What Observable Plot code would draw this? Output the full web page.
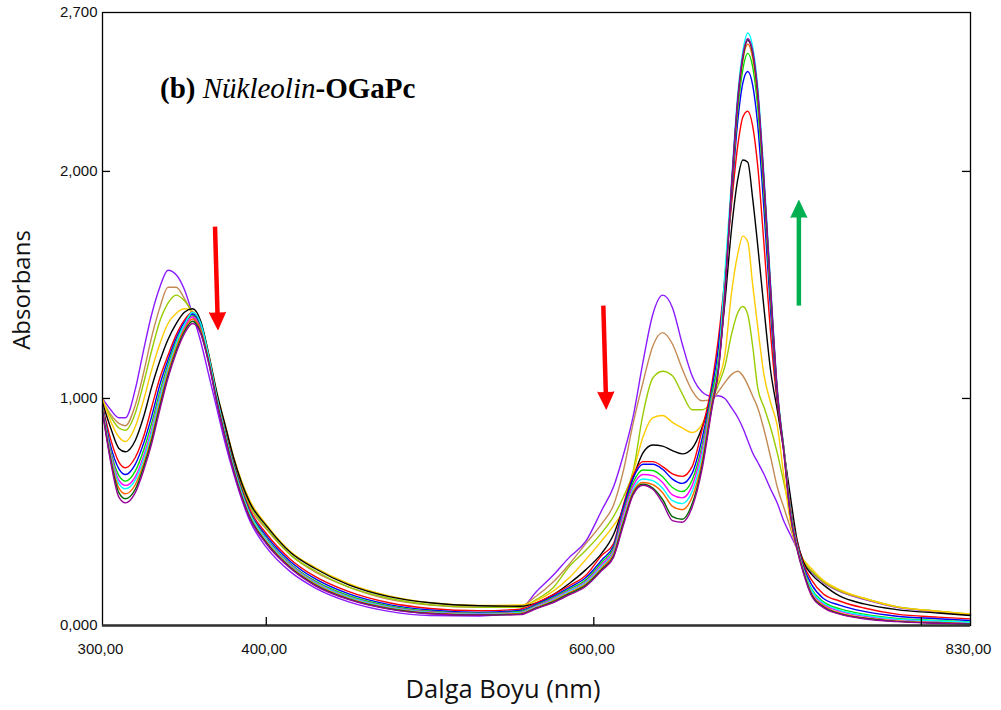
<!DOCTYPE html>
<html><head><meta charset="utf-8">
<script src="https://cdn.jsdelivr.net/npm/d3@7"></script>
<script src="https://cdn.jsdelivr.net/npm/@observablehq/plot@0.6"></script>
<style>body{margin:0;background:#fff} #chart{width:1001px;height:710px}</style>
</head><body><div id="chart"></div>
<script>
// Wavelength grid (nm)
const wavelengths = [300,305,310,314,320,325,330,335,340,345,350,355,360,365,370,375,380,390,400,415,430,450,475,500,530,
  555,565,575,585,595,605,612,618,624,630,636,642,648,654,660,666,672,676,680,684,688,691,694,697,700,704,708,712,716,720,724,728,733,740,750,765,785,810,830];

// Absorbance spectra
const violet = [1.00,0.95,0.915,0.915,1.04,1.21,1.37,1.49,1.565,1.545,1.48,1.37,1.25,1.10,0.95,0.80,0.67,0.46,0.345,0.235,0.165,0.105,0.062,0.044,0.042,
  0.07,0.15,0.22,0.30,0.37,0.51,0.61,0.75,0.92,1.16,1.37,1.455,1.40,1.24,1.10,1.03,1.01,1.012,1.00,0.96,0.915,0.87,0.815,0.76,0.72,0.665,0.60,0.54,0.46,0.40,0.34,0.28,0.235,0.19,0.15,0.115,0.08,0.06,0.046];
const tan = [0.99,0.93,0.89,0.88,0.97,1.11,1.27,1.40,1.49,1.49,1.44,1.37,1.29,1.16,0.99,0.84,0.715,0.52,0.425,0.31,0.235,0.17,0.115,0.09,0.08,
  0.085,0.13,0.19,0.27,0.36,0.45,0.53,0.68,0.89,1.07,1.23,1.29,1.24,1.13,1.035,0.99,0.995,1.03,1.07,1.105,1.12,1.10,1.06,1.01,0.96,0.86,0.74,0.61,0.52,0.43,0.34,0.28,0.24,0.192,0.152,0.117,0.082,0.062,0.048];
const yellowGreen = [0.99,0.92,0.87,0.86,0.935,1.065,1.21,1.34,1.42,1.455,1.43,1.38,1.31,1.17,1.00,0.86,0.725,0.53,0.43,0.31,0.24,0.17,0.12,0.092,0.08,
  0.08,0.115,0.165,0.26,0.33,0.41,0.48,0.565,0.68,0.93,1.09,1.12,1.10,1.02,0.95,0.95,0.99,1.06,1.14,1.28,1.38,1.405,1.37,1.23,1.05,0.96,0.87,0.76,0.63,0.50,0.36,0.285,0.24,0.195,0.155,0.12,0.083,0.063,0.05];
const gold = [1.00,0.90,0.83,0.81,0.875,0.99,1.125,1.24,1.33,1.375,1.395,1.385,1.33,1.19,1.02,0.88,0.745,0.55,0.445,0.325,0.255,0.185,0.13,0.10,0.088,
  0.09,0.11,0.15,0.21,0.29,0.375,0.44,0.51,0.67,0.83,0.915,0.925,0.895,0.87,0.85,0.885,1.00,1.08,1.19,1.46,1.64,1.715,1.69,1.50,1.32,1.10,0.98,0.88,0.66,0.46,0.34,0.29,0.25,0.20,0.158,0.12,0.082,0.063,0.051];
const black = [0.98,0.87,0.78,0.765,0.815,0.917,1.05,1.165,1.26,1.33,1.38,1.395,1.34,1.19,1.02,0.88,0.74,0.54,0.44,0.32,0.25,0.18,0.127,0.10,0.087,
  0.085,0.10,0.135,0.185,0.245,0.32,0.40,0.52,0.65,0.76,0.795,0.79,0.77,0.756,0.78,0.87,1.01,1.15,1.42,1.74,1.97,2.05,2.04,1.88,1.68,1.39,1.12,0.95,0.77,0.57,0.38,0.28,0.225,0.18,0.13,0.095,0.07,0.055,0.044];
const red = [0.97,0.82,0.72,0.695,0.74,0.83,0.96,1.09,1.19,1.28,1.345,1.38,1.32,1.18,1.00,0.85,0.715,0.51,0.405,0.29,0.215,0.15,0.10,0.075,0.065,
  0.072,0.10,0.135,0.175,0.22,0.31,0.36,0.53,0.66,0.722,0.722,0.70,0.668,0.657,0.70,0.86,1.06,1.26,1.53,1.85,2.12,2.24,2.265,2.20,2.03,1.67,1.28,0.98,0.78,0.52,0.37,0.27,0.20,0.14,0.108,0.077,0.05,0.037,0.029];
const blue = [0.965,0.79,0.69,0.665,0.71,0.80,0.92,1.06,1.17,1.265,1.335,1.372,1.315,1.175,0.995,0.845,0.71,0.50,0.395,0.28,0.205,0.14,0.092,0.068,0.058,
  0.066,0.094,0.128,0.167,0.21,0.29,0.35,0.52,0.65,0.71,0.71,0.688,0.645,0.626,0.67,0.82,1.04,1.22,1.52,1.88,2.23,2.39,2.44,2.38,2.21,1.82,1.38,1.00,0.78,0.51,0.36,0.26,0.18,0.12,0.09,0.062,0.041,0.03,0.022];
const green = [0.96,0.77,0.66,0.636,0.68,0.77,0.89,1.03,1.15,1.25,1.325,1.365,1.31,1.17,0.99,0.84,0.705,0.495,0.385,0.27,0.195,0.132,0.086,0.063,0.054,
  0.062,0.09,0.122,0.16,0.20,0.28,0.34,0.50,0.63,0.685,0.683,0.655,0.608,0.59,0.64,0.79,1.02,1.17,1.50,1.90,2.28,2.45,2.52,2.46,2.29,1.89,1.43,1.02,0.78,0.51,0.355,0.25,0.16,0.105,0.074,0.05,0.031,0.022,0.016];
const magenta = [0.955,0.76,0.64,0.617,0.655,0.745,0.865,1.01,1.135,1.24,1.315,1.36,1.305,1.165,0.99,0.835,0.70,0.49,0.38,0.265,0.19,0.127,0.082,0.06,0.052,
  0.058,0.086,0.117,0.154,0.193,0.27,0.33,0.49,0.615,0.665,0.66,0.63,0.575,0.562,0.615,0.77,1.00,1.14,1.50,1.92,2.32,2.50,2.575,2.52,2.35,1.94,1.47,1.03,0.78,0.50,0.35,0.245,0.15,0.095,0.064,0.042,0.026,0.018,0.012];
const cyan = [0.955,0.75,0.625,0.602,0.64,0.73,0.85,1.00,1.13,1.24,1.325,1.38,1.33,1.18,1.00,0.84,0.70,0.49,0.378,0.262,0.187,0.125,0.08,0.058,0.05,
  0.056,0.083,0.113,0.15,0.188,0.262,0.322,0.47,0.60,0.645,0.638,0.605,0.55,0.537,0.59,0.745,0.99,1.15,1.55,1.95,2.35,2.53,2.61,2.55,2.38,1.97,1.50,1.05,0.78,0.50,0.35,0.245,0.155,0.10,0.068,0.045,0.028,0.02,0.014];
const orange = [0.95,0.74,0.605,0.58,0.62,0.71,0.83,0.98,1.115,1.225,1.305,1.35,1.30,1.16,0.985,0.83,0.69,0.48,0.37,0.257,0.182,0.12,0.076,0.055,0.048,
  0.053,0.08,0.108,0.145,0.182,0.255,0.315,0.46,0.59,0.63,0.62,0.585,0.525,0.51,0.565,0.72,0.98,1.13,1.48,1.91,2.31,2.49,2.56,2.50,2.33,1.93,1.46,1.03,0.77,0.49,0.345,0.24,0.14,0.088,0.055,0.034,0.02,0.013,0.008];
const darkGreen = [0.945,0.73,0.585,0.558,0.60,0.695,0.815,0.965,1.10,1.21,1.295,1.34,1.29,1.155,0.98,0.825,0.685,0.475,0.365,0.253,0.178,0.117,0.074,0.053,0.046,
  0.05,0.077,0.104,0.14,0.177,0.248,0.305,0.45,0.58,0.622,0.605,0.555,0.48,0.468,0.535,0.70,0.96,1.12,1.46,1.92,2.32,2.50,2.58,2.52,2.35,1.94,1.47,1.03,0.77,0.49,0.34,0.235,0.135,0.083,0.052,0.032,0.018,0.011,0.007];
const purple = [0.94,0.72,0.565,0.54,0.585,0.68,0.80,0.95,1.09,1.20,1.285,1.33,1.285,1.15,0.975,0.82,0.68,0.47,0.36,0.25,0.175,0.115,0.072,0.052,0.045,
  0.048,0.075,0.10,0.135,0.172,0.243,0.30,0.44,0.575,0.618,0.60,0.54,0.462,0.455,0.52,0.685,0.95,1.12,1.45,1.93,2.33,2.51,2.585,2.53,2.36,1.95,1.48,1.04,0.76,0.49,0.34,0.23,0.13,0.08,0.05,0.03,0.017,0.01,0.006];

const seriesNames = ["violet","tan","yellowGreen","gold","black","red","blue","green","magenta","cyan","orange","darkGreen","purple"];
const seriesColors = ["#8B1AFF","#C48A55","#99CC00","#FFCC00","#000000","#FF0000","#0000FF","#00E000","#FF00FF","#00FFFF","#FF6600","#006400","#990099"];
const seriesValues = [violet,tan,yellowGreen,gold,black,red,blue,green,magenta,cyan,orange,darkGreen,purple];

// Axis ticks / labels
const xDomain = [300, 830];
const yDomain = [0, 2.7];
const xTickLabels = [300, 400, 600, 830];
const xTickMarks = [400, 600, 800];
const yTickLabels = [0, 1, 2, 2.7];
const yTickMarks = [1, 2];

// Annotation arrows (data coordinates: start -> tip)
const arrows = [
  {x1: 368.7, y1: 1.757, x2: 370.5, y2: 1.304, color: "#FF0000"},
  {x1: 605.8, y1: 1.409, x2: 607.6, y2: 0.954, color: "#FF0000"},
  {x1: 725.2, y1: 1.409, x2: 725.2, y2: 1.872, color: "#00B050"}
];

const W = 1001, H = 710, ML = 102, MR = 31, MT = 12, MB = 85;
const pxPerX = (W - ML - MR) / (xDomain[1] - xDomain[0]);
const pxPerY = (H - MT - MB) / (yDomain[1] - yDomain[0]);

const rows = [];
seriesValues.forEach((vals, k) => vals.forEach((a, i) => rows.push({series: seriesNames[k], wl: wavelengths[i], a})));

const headLen = 17;
const arrowRows = arrows.map(d => {
  const dx = (d.x2 - d.x1) * pxPerX, dy = -(d.y2 - d.y1) * pxPerY;
  const len = Math.hypot(dx, dy);
  const ux = dx / len, uy = dy / len;
  return {...d, rotate: Math.atan2(dx, -dy) * 180 / Math.PI,
    xs: d.x2 - ux * (headLen - 3) / pxPerX, ys: d.y2 + uy * (headLen - 3) / pxPerY};
});

const fmt = (v, n) => v.toFixed(n).replace(".", ",");
const tickLenX = 8 / pxPerX, tickLenY = 8 / pxPerY;

const plot = Plot.plot({
  width: W, height: H,
  marginLeft: ML, marginRight: MR, marginTop: MT, marginBottom: MB,
  x: {domain: xDomain, axis: null},
  y: {domain: yDomain, axis: null},
  color: {domain: seriesNames, range: seriesColors},
  style: {fontFamily: "'Liberation Sans', Arial, sans-serif", background: "#fff"},
  marks: [
    Plot.line(rows, {x: "wl", y: "a", z: "series", stroke: "series", strokeWidth: 1.4, curve: "monotone-x"}),
    Plot.frame({stroke: "#000", strokeWidth: 1.3}),
    Plot.ruleY([0], {stroke: "#333", strokeWidth: 2.4}),
    Plot.ruleX(xTickMarks, {y1: 0, y2: tickLenY, stroke: "#000", strokeWidth: 1.3}),
    Plot.ruleY(yTickMarks, {x1: xDomain[0], x2: xDomain[0] + tickLenX, stroke: "#000", strokeWidth: 1.3}),
    Plot.ruleY(yTickMarks, {x1: xDomain[1] - tickLenX, x2: xDomain[1], stroke: "#000", strokeWidth: 1.3}),
    Plot.text(xTickLabels, {x: d => d, y: yDomain[0], text: d => fmt(d, 2), dy: 24, dx: -2, fontSize: 15, fill: "#111"}),
    Plot.text(yTickLabels, {x: xDomain[0], y: d => d, text: d => fmt(d, 3), dx: -5, textAnchor: "end", fontSize: 15, fill: "#111"}),
    Plot.link(arrowRows, {x1: "x1", y1: "y1", x2: "xs", y2: "ys", stroke: "color", strokeWidth: 4.5}),
    Plot.vector(arrowRows, {x: "x2", y: "y2", length: headLen, rotate: "rotate", shape: "spike", r: 8, anchor: "end", fill: "color", stroke: "color", strokeWidth: 1})
  ]
});

const svg = d3.select(plot);
const title = svg.append("text").attr("x", 160).attr("y", 98).attr("text-anchor", "start")
  .style("font-family", "'Liberation Serif', 'Times New Roman', serif").style("font-size", "29px")
  .style("white-space", "pre").attr("fill", "#000");
title.append("tspan").attr("font-weight", "bold").text("(b) ");
title.append("tspan").attr("font-style", "italic").text("Nükleolin");
title.append("tspan").attr("font-weight", "bold").text("-OGaPc");

svg.append("text").attr("x", 503).attr("y", 698).attr("text-anchor", "middle")
  .style("font-family", "'Open Sans', 'Noto Sans', sans-serif").style("font-size", "25.5px").attr("fill", "#111")
  .text("Dalga Boyu (nm)");
svg.append("text").attr("transform", "translate(30,290) rotate(-90)").attr("text-anchor", "middle")
  .style("font-family", "'Open Sans', 'Noto Sans', sans-serif").style("font-size", "24px").attr("fill", "#111")
  .text("Absorbans");

document.getElementById("chart").appendChild(plot);
</script>
</body></html>
